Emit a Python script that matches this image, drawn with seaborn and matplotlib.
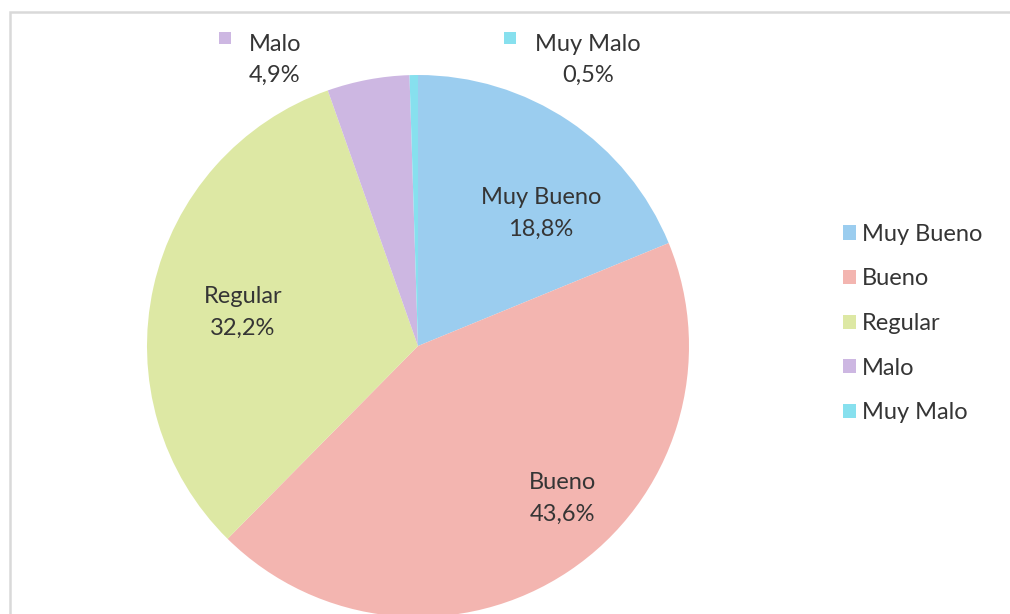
import matplotlib.pyplot as plt
import matplotlib.patches as mpatches
import seaborn as sns

# data
categories = ["Muy Bueno", "Bueno", "Regular", "Malo", "Muy Malo"]
values = [18.8, 43.6, 32.2, 4.9, 0.5]
pct_labels = ["18,8%", "43,6%", "32,2%", "4,9%", "0,5%"]
colors = ["#9BCDEF", "#F3B5B0", "#DDE8A4", "#CDB7E2", "#87E0EE"]

sns.set_style("white")
plt.rcParams["font.family"] = ["Lato", "DejaVu Sans"]
text_color = "#353535"
fsize = 17

W, H = 1010, 614
fig = plt.figure(figsize=(W / 100, H / 100), dpi=100)

# chart border (only top and left edges are visible in the reference)
fig.add_artist(mpatches.Rectangle((10 / W, -0.1), 1.2, 1.1 - 12 / H,
                                  transform=fig.transFigure, fill=False,
                                  edgecolor="#D9D9D9", linewidth=1.8))

# pie centre and radius in pixels
cx, cy, r = 418, 346, 271
ax = fig.add_axes([(cx - r) / W, (H - cy - r) / H, 2 * r / W, 2 * r / H])

wedges, _ = ax.pie(values, colors=sns.color_palette(colors), startangle=90,
                   counterclock=False, radius=1,
                   wedgeprops=dict(linewidth=0))
ax.set_xlim(-1, 1)
ax.set_ylim(-1, 1)
ax.axis("off")
for w in wedges:
    w.set_clip_on(False)

# inside labels (x, y in pie-radius units)
inside_pos = {0: (0.454, 0.49), 1: (0.535, -0.562), 2: (-0.646, 0.124)}
for i, (x, y) in inside_pos.items():
    ax.text(x, y, f"{categories[i]}\n{pct_labels[i]}", ha="center", va="center",
            fontsize=fsize, color=text_color, linespacing=1.65)

# outside labels with small colour keys (pixel positions)
outside_pos = {3: (275, 60, 225), 4: (588, 60, 510)}
for i, (tx, ty, kx) in outside_pos.items():
    fig.text(tx / W, 1 - ty / H, f"{categories[i]}\n{pct_labels[i]}",
             ha="center", va="center", fontsize=fsize, color=text_color,
             linespacing=1.6)
    fig.add_artist(mpatches.Rectangle(((kx - 6) / W, 1 - (38 + 6) / H), 12 / W, 12 / H,
                                      transform=fig.transFigure,
                                      facecolor=colors[i], edgecolor="none"))

leg = fig.legend(wedges, categories, loc="upper left",
                 bbox_to_anchor=(831 / W, 1 - 212 / H), frameon=False,
                 fontsize=fsize, handlelength=0.55, handleheight=0.55,
                 handletextpad=0.25, labelspacing=1.0, borderpad=0)
for t in leg.get_texts():
    t.set_color(text_color)

fig.savefig("out.png", dpi=100)
